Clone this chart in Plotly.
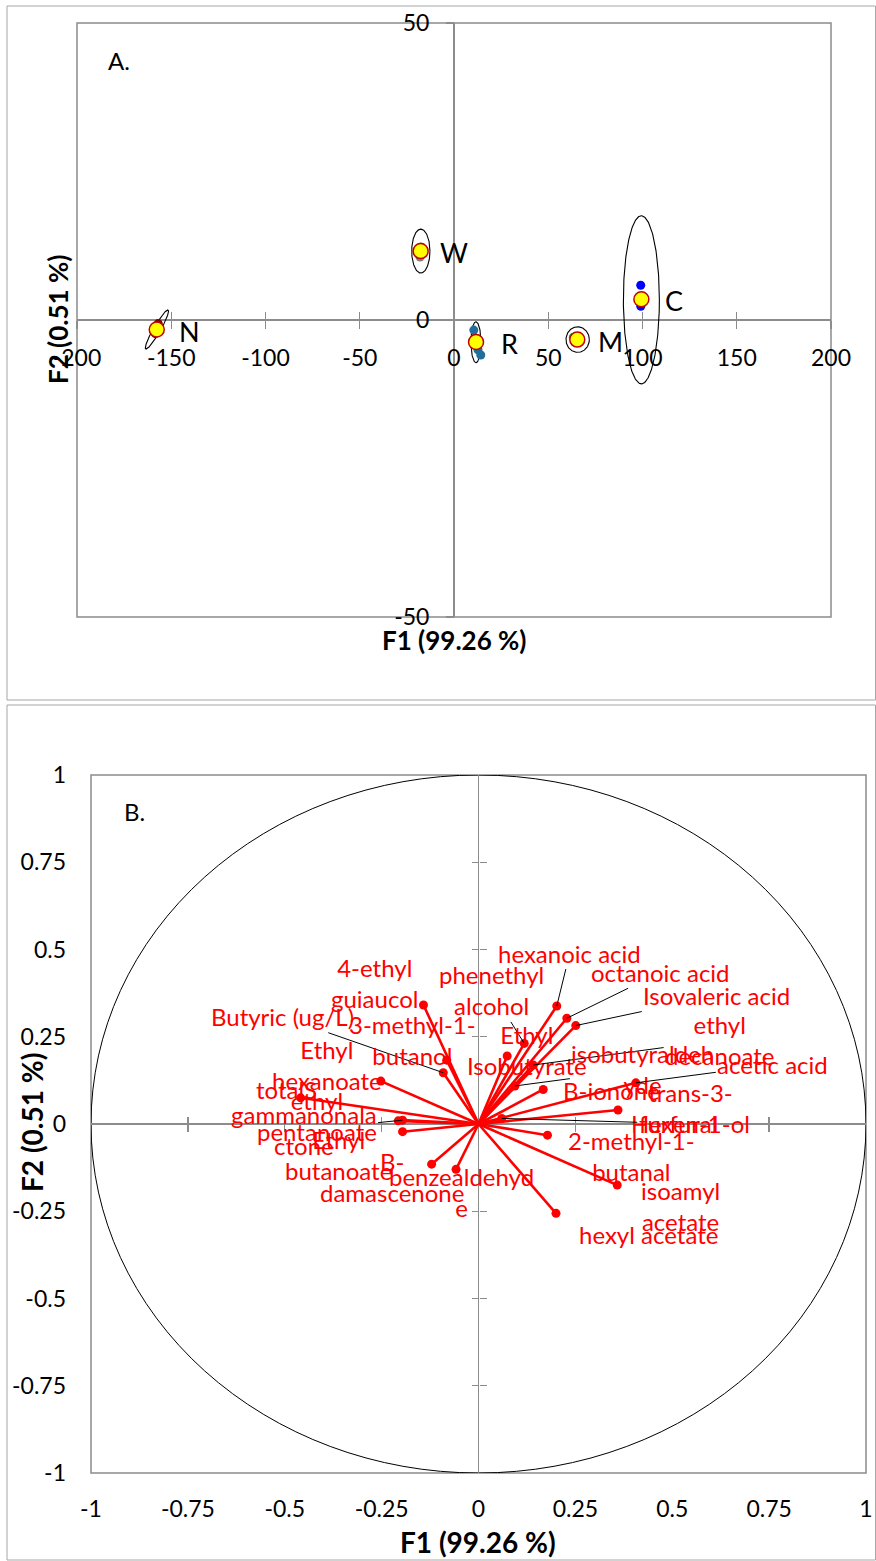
import numpy as np
import plotly.graph_objects as go

FONT = "Lato"
GRAY = "#8c8c8c"
W_PX, H_PX = 876, 1561

# ---------------- Panel A : observations (F1/F2 scores) ----------------
group_names = ["N", "W", "R", "M", "C"]
centroid_f1 = [-157.7, -17.7, 11.7, 65.4, 99.4]
centroid_f2 = [-1.6, 11.6, -3.7, -3.3, 3.5]

n_f1 = [-156.9, -157.9, -158.4]
n_f2 = [-0.6, -1.4, -2.3]
w_f1 = [-18.0, -17.5, -17.9]
w_f2 = [10.6, 12.3, 11.4]
r_f1 = [10.5, 11.2, 12.7, 14.2]
r_f2 = [-1.7, -3.0, -5.0, -5.9]
m_f1 = [63.3, 65.8, 66.6]
m_f2 = [-2.9, -3.5, -3.6]
c_f1 = [99.05, 99.1, 99.3]
c_f2 = [5.85, 2.3, 2.9]

# confidence ellipses: centre and half-axis vectors (data units)
ell_cx = [-157.6, -17.6, 11.65, 65.6, 99.4]
ell_cy = [-1.6, 11.6, -3.74, -3.3, 3.4]
ell_ux = [5.94, 4.85, 2.65, 6.2, 9.55]
ell_uy = [3.28, 0.0, 0.0, 0.0, 0.0]
ell_vx = [1.6, 0.0, 0.0, 0.0, 0.0]
ell_vy = [-0.29, 3.7, 3.45, 2.15, 14.15]

a_x_ticks = [-200, -150, -100, -50, 0, 50, 100, 150, 200]
a_x_tick_text = ["-200", "-150", "-100", "-50", "0", "50", "100", "150", "200"]
a_y_ticks = [-50, 0, 50]
a_y_tick_text = ["-50", "0", "50"]

# ---------------- Panel B : variables (loadings) ----------------
var_labels = [
    "4-ethyl\nguiaucol", "Butyric (ug/L)", "3-methyl-1-\nbutanol", "Ethyl\nhexanoate",
    "totalS", "ethyl\npentanoate", "gammanonala\nctone", "Ethyl\nbutanoate",
    "B-\ndamascenone", "benzealdehyd\ne", "hexanoic acid", "octanoic acid",
    "Isovaleric acid", "phenethyl\nalcohol", "Ethyl\nIsobutyrate", "ethyl\ndecanoate",
    "isobutyraldeh\nyde", "acetic acid", "B-ionone", "trans-3-\nHexen-1-ol",
    "furfural", "2-methyl-1-\nbutanal", "isoamyl\nacetate", "hexyl acetate",
]
f1_load = [-0.142, -0.091, -0.082, -0.252, -0.459, -0.207, -0.196, -0.196,
           -0.121, -0.058, 0.202, 0.228, 0.251, 0.118, 0.074, 0.141,
           0.094, 0.406, 0.167, 0.360, 0.060, 0.178, 0.358, 0.200]
f2_load = [0.341, 0.147, 0.183, 0.123, 0.075, 0.009, 0.011, -0.022,
           -0.115, -0.130, 0.338, 0.303, 0.282, 0.231, 0.195, 0.169,
           0.109, 0.118, 0.099, 0.040, 0.016, -0.032, -0.175, -0.256]

b_ticks = [-1, -0.75, -0.5, -0.25, 0, 0.25, 0.5, 0.75, 1]
b_tick_text = ["-1", "-0.75", "-0.5", "-0.25", "0", "0.25", "0.5", "0.75", "1"]
b_cross_ticks = [-0.75, -0.5, -0.25, 0.25, 0.5, 0.75]

# label placement (pixel offsets of label centre from point, leader line flag)
LABEL_POS = [
    (-49, -22, False), (-161, -56, True), (-34, -20, False), (-54, -16, False),
    (-14, -8, False), (-81, -5, False), (-99, 10, True), (-64, 23, False),
    (-40, 13, False), (5, 23, False), (13, -53, True), (94, -46, True),
    (141, -30, True), (-33, -53, True), (20, -6, False), (187, -25, True),
    (128, -17, True), (137, -18, True), (68, 1, False), (72, -2, False),
    (176, 5, True), (84, 21, False), (63, 21, False), (92, 21, False),
]

# ---------------- geometry ----------------
AX_DOM = [77 / W_PX, 831 / W_PX]
AY_DOM = [1 - 617 / H_PX, 1 - 23 / H_PX]
BX_DOM = [91 / W_PX, 866 / W_PX]
BY_DOM = [1 - 1473 / H_PX, 1 - 775 / H_PX]


def zero_pos(dom, rng):
    return dom[0] + (0 - rng[0]) / (rng[1] - rng[0]) * (dom[1] - dom[0])


A_XR, A_YR = [-200, 200], [-50, 50]
B_R = [-1, 1]
a_xaxis_pos = zero_pos(AY_DOM, A_YR)
a_yaxis_pos = zero_pos(AX_DOM, A_XR)
b_xaxis_pos = zero_pos(BY_DOM, B_R)
b_yaxis_pos = zero_pos(BX_DOM, B_R)

fig = go.Figure()

# ----- Panel A traces -----
t = np.linspace(0, 2 * np.pi, 241)
for cx, cy, ux, uy, vx, vy in zip(ell_cx, ell_cy, ell_ux, ell_uy, ell_vx, ell_vy):
    fig.add_trace(go.Scatter(
        x=cx + ux * np.cos(t) + vx * np.sin(t),
        y=cy + uy * np.cos(t) + vy * np.sin(t),
        mode="lines", line=dict(color="black", width=1.1),
        showlegend=False, hoverinfo="skip", xaxis="x", yaxis="y"))

obs_sets = [(n_f1, n_f2, "#7b0000"), (w_f1, w_f2, "#7f7f7f"), (r_f1, r_f2, "#1f6e9c"),
            (m_f1, m_f2, "#2ca02c"), (c_f1, c_f2, "#0000ff")]
for xs, ys, col in obs_sets:
    fig.add_trace(go.Scatter(x=xs, y=ys, mode="markers",
                             marker=dict(size=9, color=col),
                             showlegend=False, xaxis="x", yaxis="y"))

fig.add_trace(go.Scatter(x=centroid_f1, y=centroid_f2, mode="markers",
                         marker=dict(size=15, color="#ffff00",
                                     line=dict(color="#c00000", width=1.5)),
                         showlegend=False, xaxis="x", yaxis="y"))

# dummy traces for the overlay axes that draw the inner half of cross ticks
fig.add_trace(go.Scatter(x=[], y=[], xaxis="x2", yaxis="y", showlegend=False))
fig.add_trace(go.Scatter(x=[], y=[], xaxis="x", yaxis="y2", showlegend=False))

# ----- Panel B traces -----
seg_x, seg_y = [], []
for a, b in zip(f1_load, f2_load):
    seg_x += [0, a, None]
    seg_y += [0, b, None]
fig.add_trace(go.Scatter(x=seg_x, y=seg_y, mode="lines",
                         line=dict(color="#ff0000", width=2.6),
                         showlegend=False, hoverinfo="skip", xaxis="x3", yaxis="y3"))
fig.add_trace(go.Scatter(x=f1_load, y=f2_load, mode="markers",
                         marker=dict(size=9, color="#ff0000"),
                         showlegend=False, xaxis="x3", yaxis="y3"))
fig.add_trace(go.Scatter(x=[], y=[], xaxis="x4", yaxis="y3", showlegend=False))
fig.add_trace(go.Scatter(x=[], y=[], xaxis="x5", yaxis="y3", showlegend=False))
fig.add_trace(go.Scatter(x=[], y=[], xaxis="x3", yaxis="y4", showlegend=False))
fig.add_trace(go.Scatter(x=[], y=[], xaxis="x3", yaxis="y5", showlegend=False))

tickfont = dict(family=FONT, size=23, color="black")
common = dict(showgrid=False, fixedrange=True, automargin=False)

fig.update_layout(
    width=W_PX, height=H_PX, autosize=False,
    margin=dict(l=0, r=0, t=0, b=0, pad=0, autoexpand=False),
    paper_bgcolor="white", plot_bgcolor="white",
    showlegend=False,
    # panel A
    xaxis=dict(domain=AX_DOM, range=A_XR, anchor="free", position=a_xaxis_pos,
               tickmode="array", tickvals=a_x_ticks, ticktext=a_x_tick_text,
               ticks="outside", ticklen=8,
               tickwidth=1.3, tickcolor=GRAY, zeroline=True, zerolinecolor=GRAY,
               zerolinewidth=1.3, showline=False, tickfont=tickfont,
               ticklabelstandoff=9, **common),
    xaxis2=dict(overlaying="x", range=A_XR, anchor="free", position=a_xaxis_pos,
                tickmode="array", tickvals=a_x_ticks, ticks="inside", ticklen=8,
                tickwidth=1.3, tickcolor=GRAY, showticklabels=False,
                zeroline=False, showline=False, **common),
    yaxis=dict(domain=AY_DOM, range=A_YR, anchor="free", position=a_yaxis_pos,
               tickmode="array", tickvals=a_y_ticks, ticktext=a_y_tick_text,
               ticks="outside", ticklen=8,
               tickwidth=1.3, tickcolor=GRAY, zeroline=True, zerolinecolor=GRAY,
               zerolinewidth=1.3, showline=False, tickfont=tickfont,
               ticklabelstandoff=12, **common),
    yaxis2=dict(overlaying="y", range=A_YR, anchor="free", position=a_yaxis_pos,
                tickmode="array", tickvals=a_y_ticks, ticks="inside", ticklen=8,
                tickwidth=1.3, tickcolor=GRAY, showticklabels=False,
                zeroline=False, showline=False, **common),
    # panel B
    xaxis3=dict(domain=BX_DOM, range=B_R, anchor="y3", tickmode="array",
                tickvals=b_ticks, ticktext=b_tick_text, ticks="", zeroline=True,
                zerolinecolor=GRAY, zerolinewidth=1.3, showline=False,
                tickfont=tickfont, ticklabelstandoff=20, **common),
    xaxis4=dict(overlaying="x3", range=B_R, anchor="free", position=b_xaxis_pos,
                tickmode="array", tickvals=b_cross_ticks, ticks="outside", ticklen=7,
                tickwidth=1.3, tickcolor=GRAY, showticklabels=False,
                zeroline=False, showline=False, **common),
    xaxis5=dict(overlaying="x3", range=B_R, anchor="free", position=b_xaxis_pos,
                tickmode="array", tickvals=b_cross_ticks, ticks="inside", ticklen=7,
                tickwidth=1.3, tickcolor=GRAY, showticklabels=False,
                zeroline=False, showline=False, **common),
    yaxis3=dict(domain=BY_DOM, range=B_R, anchor="x3", tickmode="array",
                tickvals=b_ticks, ticktext=b_tick_text, ticks="", zeroline=True,
                zerolinecolor=GRAY, zerolinewidth=1.3, showline=False,
                tickfont=tickfont, ticklabelstandoff=24, **common),
    yaxis4=dict(overlaying="y3", range=B_R, anchor="free", position=b_yaxis_pos,
                tickmode="array", tickvals=b_cross_ticks, ticks="outside", ticklen=7,
                tickwidth=1.3, tickcolor=GRAY, showticklabels=False,
                zeroline=False, showline=False, **common),
    yaxis5=dict(overlaying="y3", range=B_R, anchor="free", position=b_yaxis_pos,
                tickmode="array", tickvals=b_cross_ticks, ticks="inside", ticklen=7,
                tickwidth=1.3, tickcolor=GRAY, showticklabels=False,
                zeroline=False, showline=False, **common),
)

shapes = [
    # plot-area borders
    dict(type="rect", xref="x domain", yref="y domain", x0=0, x1=1, y0=0, y1=1,
         line=dict(color=GRAY, width=1.5), layer="below"),
    dict(type="rect", xref="x3 domain", yref="y3 domain", x0=0, x1=1, y0=0, y1=1,
         line=dict(color=GRAY, width=1.5), layer="below"),
    # correlation circle
    dict(type="circle", xref="x3", yref="y3", x0=-1, x1=1, y0=-1, y1=1,
         line=dict(color="black", width=1), layer="below"),
    # outer panel frames
    dict(type="rect", xref="paper", yref="paper", x0=7 / W_PX, x1=875.5 / W_PX,
         y0=1 - 700 / H_PX, y1=1 - 6 / H_PX, line=dict(color="#a6a6a6", width=1)),
    dict(type="rect", xref="paper", yref="paper", x0=7 / W_PX, x1=875.5 / W_PX,
         y0=1 - 1560 / H_PX, y1=1 - 705 / H_PX, line=dict(color="#a6a6a6", width=1)),
]
fig.update_layout(shapes=shapes)

ann = []
# group labels (panel A)
for g, x, y in zip(group_names, centroid_f1, centroid_f2):
    ann.append(dict(x=x, y=y, xref="x", yref="y", text=g, showarrow=False,
                    xshift=33, yshift=-1.5, xanchor="center", yanchor="middle",
                    font=dict(family=FONT, size=27, color="black")))
# variable labels (panel B)
for lab, x, y, (dx, dy, leader) in zip(var_labels, f1_load, f2_load, LABEL_POS):
    txt = lab.replace("\n", "<br>")
    f = dict(family=FONT, size=24, color="#ff0000")
    if leader:
        ann.append(dict(x=x, y=y, xref="x3", yref="y3", text=txt, showarrow=True,
                        ax=dx, ay=dy, arrowhead=0, arrowwidth=1, arrowcolor="black",
                        standoff=0, font=f, align="center"))
    else:
        ann.append(dict(x=x, y=y, xref="x3", yref="y3", text=txt, showarrow=False,
                        xshift=dx, yshift=-dy, xanchor="center", yanchor="middle",
                        font=f, align="center"))

title_font_a = dict(family=FONT, size=26, color="black")
title_font_b = dict(family=FONT, size=28, color="black")
paper_texts = [
    ("A.", 119, 60, 0, dict(family=FONT, size=24, color="black")),
    ("B.", 134, 812, 0, dict(family=FONT, size=24, color="black")),
    ("<b>F1 (99.26 %)</b>", 454, 640, 0, title_font_a),
    ("<b>F2 (0.51 %)</b>", 58, 320, -90, title_font_a),
    ("<b>F1 (99.26 %)</b>", 478, 1542, 0, title_font_b),
    ("<b>F2 (0.51 %)</b>", 32, 1123, -90, title_font_b),
]
for txt, px, py, ang, fnt in paper_texts:
    ann.append(dict(x=px / W_PX, y=1 - py / H_PX, xref="paper", yref="paper",
                    text=txt, showarrow=False, textangle=ang, font=fnt,
                    xanchor="center", yanchor="middle"))
fig.update_layout(annotations=ann)

fig.write_html(
    "out.html",
    config={"displayModeBar": False, "staticPlot": True},
    post_script="document.body.style.margin='0px';"
                "document.documentElement.style.overflow='hidden';",
)
